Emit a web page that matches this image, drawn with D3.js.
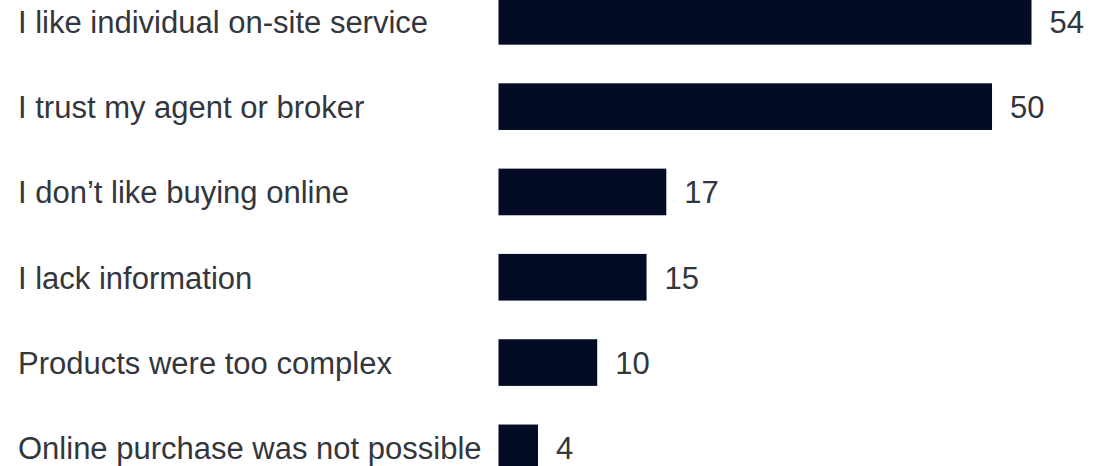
<!DOCTYPE html>
<html>
<head>
<meta charset="utf-8">
<script src="https://cdn.jsdelivr.net/npm/d3@7"></script>
<style>
  html, body { margin: 0; padding: 0; background: #fff; }
  svg { display: block; }
  .label, .value { font-family: "Liberation Sans", Arial, sans-serif; font-size: 31px; fill: #33363d; }
</style>
</head>
<body>
<div id="chart"></div>
<script>
var categories = [
  "I like individual on-site service",
  "I trust my agent or broker",
  "I don\u2019t like buying online",
  "I lack information",
  "Products were too complex",
  "Online purchase was not possible"
];
var values = [54, 50, 17, 15, 10, 4];

var width = 1093, height = 466;

var svg = d3.select('#chart').append('svg')
  .attr('width', width)
  .attr('height', height);

var x = d3.scaleLinear()
  .domain([0, 54])
  .range([498.5, 1031.5]);

var y = d3.scaleBand()
  .domain(categories)
  .range([-2, 471.2])
  .paddingInner(0.453)
  .paddingOuter(0);

var data = categories.map(function(c, i){
  return { cat: c, val: values[i] };
});

svg.selectAll('rect.bar')
  .data(data)
  .enter().append('rect')
    .attr('class', 'bar')
    .attr('x', x(0))
    .attr('y', function(d){ return y(d.cat); })
    .attr('width', function(d){ return x(d.val) - x(0); })
    .attr('height', y.bandwidth())
    .attr('fill', '#030c24');

// category labels
svg.selectAll('text.label')
  .data(data)
  .enter().append('text')
    .attr('class', 'label')
    .attr('x', 18)
    .attr('y', function(d){ return y(d.cat) + y.bandwidth() / 2; })
    .attr('dy', '0.37em')
    .text(function(d){ return d.cat; });

// value labels
svg.selectAll('text.value')
  .data(data)
  .enter().append('text')
    .attr('class', 'value')
    .attr('x', function(d){ return x(d.val) + 18; })
    .attr('y', function(d){ return y(d.cat) + y.bandwidth() / 2; })
    .attr('dy', '0.37em')
    .text(function(d){ return d.val; });
</script>
</body>
</html>
